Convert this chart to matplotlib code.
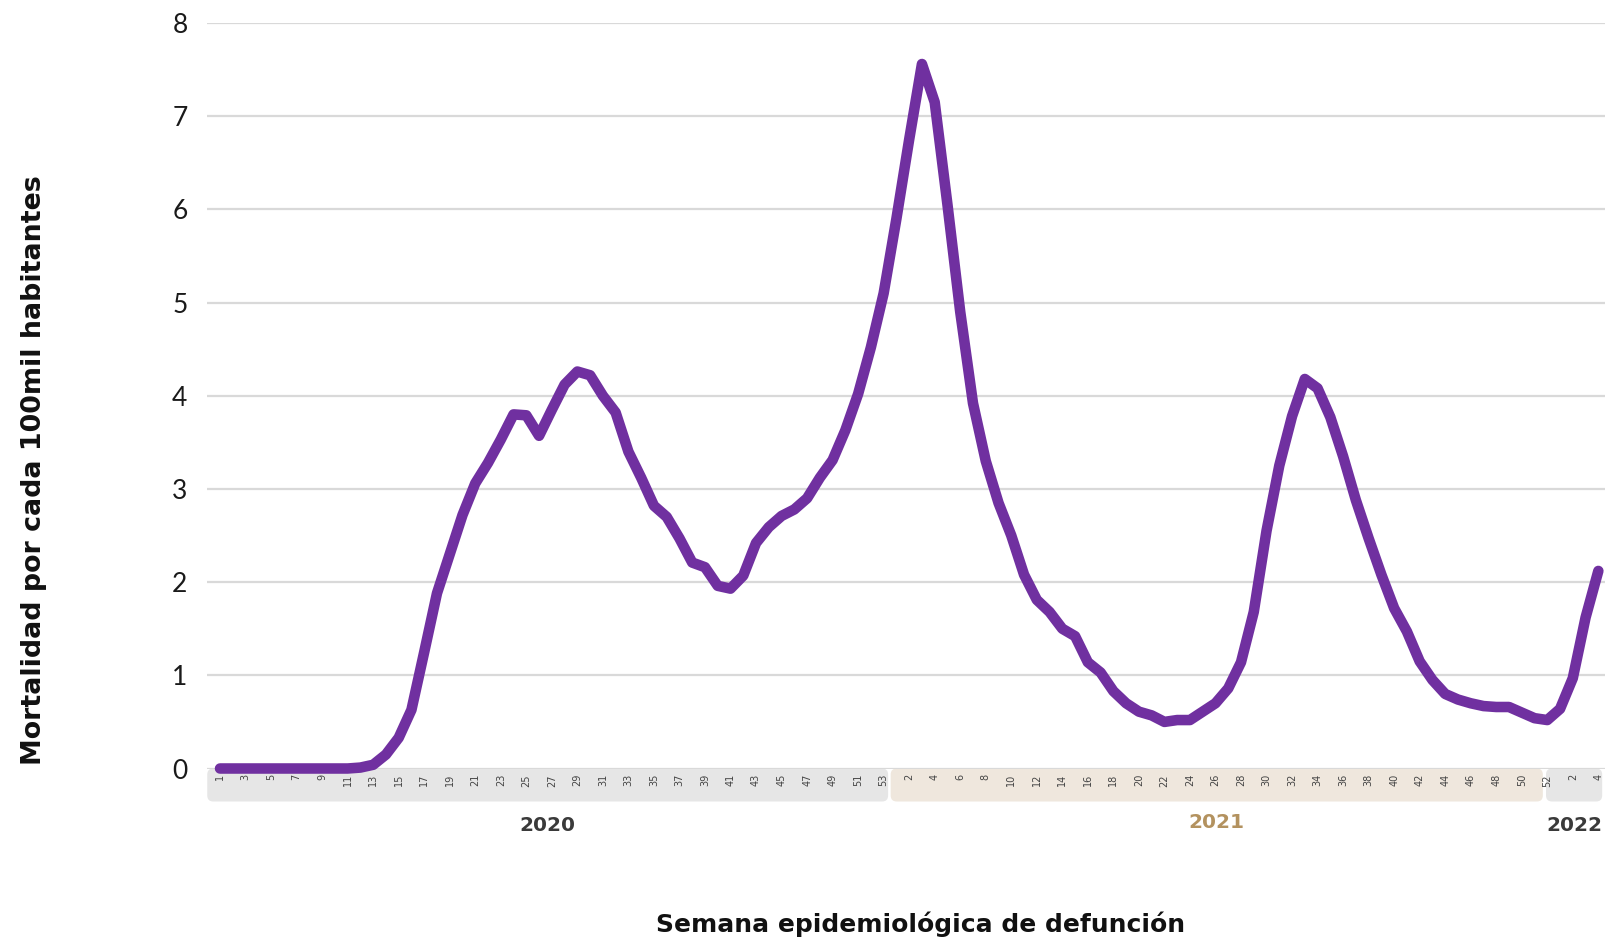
import matplotlib
matplotlib.use("Agg")
import matplotlib.pyplot as plt
from matplotlib.patches import FancyBboxPatch
from matplotlib.transforms import IdentityTransform
import numpy as np

# weekly mortality per 100k inhabitants, by epidemiological week of death
weeks_2020 = list(range(1, 54))
weeks_2021 = list(range(1, 53))
weeks_2022 = list(range(1, 5))

mort_2020 = [0.0, 0.0, 0.0, 0.0, 0.0, 0.0, 0.0, 0.0, 0.0, 0.0,
             0.0, 0.01, 0.04, 0.15, 0.33, 0.63, 1.25, 1.88, 2.30, 2.72,
             3.06, 3.28, 3.53, 3.80, 3.79, 3.57, 3.85, 4.12, 4.26, 4.22,
             4.00, 3.82, 3.40, 3.12, 2.82, 2.70, 2.47, 2.21, 2.16, 1.96,
             1.93, 2.07, 2.42, 2.59, 2.71, 2.78, 2.90, 3.12, 3.31, 3.63,
             4.02, 4.52, 5.10]
mort_2021 = [5.90, 6.75, 7.56, 7.15, 6.05, 4.90, 3.92, 3.30, 2.85, 2.50,
             2.08, 1.81, 1.68, 1.50, 1.42, 1.14, 1.03, 0.83, 0.70, 0.61,
             0.57, 0.50, 0.52, 0.52, 0.61, 0.70, 0.86, 1.14, 1.68, 2.55,
             3.25, 3.78, 4.18, 4.08, 3.77, 3.35, 2.88, 2.47, 2.08, 1.72,
             1.47, 1.15, 0.95, 0.80, 0.74, 0.70, 0.67, 0.66, 0.66, 0.60,
             0.54, 0.52]
mort_2022 = [0.64, 0.97, 1.62, 2.12]

years = ["2020", "2021", "2022"]
year_weeks = [weeks_2020, weeks_2021, weeks_2022]
band_colors = ["#e6e6e6", "#efe7dd", "#e6e6e6"]
year_colors = ["#3a3a3a", "#b3925f", "#3a3a3a"]
# how far each band reaches past its first / last week (in weeks)
band_pads = [(1.0, 0.35), (0.45, -0.35), (1.1, 0.3)]

values = mort_2020 + mort_2021 + mort_2022
week_labels = weeks_2020 + weeks_2021 + weeks_2022
x = np.arange(len(values))

W, H = 1606, 938
fig = plt.figure(figsize=(W / 100, H / 100), dpi=100)
fig.patch.set_facecolor("white")
ax = fig.add_axes([207 / W, 169.5 / H, 1399 / W, 745.5 / H])
ax.set_facecolor("none")

ax.plot(x, values, color="#7030a0", lw=7.6, solid_capstyle="round",
        solid_joinstyle="round", clip_on=False, zorder=3)

ax.set_xlim(-1.02, 108.6)
ax.set_ylim(0, 8)
ax.set_yticks(range(9))
ax.yaxis.grid(True, color="#d9d9d9", lw=1.6)
ax.set_axisbelow(True)
for s in ax.spines.values():
    s.set_visible(False)
ax.tick_params(axis="y", length=0, pad=14, labelsize=19, labelcolor="#1a1a1a")
for t in ax.get_yticklabels():
    t.set_fontfamily("Lato")

ax.set_xticks(x[::2])
ax.set_xticklabels([str(w) for w in week_labels[::2]], rotation=90,
                   fontsize=7, color="#444444")
ax.tick_params(axis="x", length=0, pad=4)

# year bands under the week labels
start = 0
for yr, wk, bc, yc, (pl, pr) in zip(years, year_weeks, band_colors,
                                     year_colors, band_pads):
    end = start + len(wk) - 1
    x0 = ax.transData.transform((start - pl, 0))[0]
    x1 = ax.transData.transform((end + pr, 0))[0]
    y_top = ax.transAxes.transform((0, 0))[1]
    box = FancyBboxPatch((x0 + 6, y_top - 33 + 6), x1 - x0 - 12, 33 - 12,
                         boxstyle="round,pad=6", transform=IdentityTransform(),
                         facecolor=bc, edgecolor="none", zorder=-1)
    fig.patches.append(box)
    ty = -0.0718 if yr == "2021" else -0.0771
    ax.text((start - pl + end + pr) / 2, ty, yr, transform=ax.get_xaxis_transform(),
            ha="center", va="center", fontsize=14.5, fontweight="bold",
            color=yc)
    start = end + 1

fig.text(921 / W, 1 - 924 / H, "Semana epidemiológica de defunción",
         ha="center", va="center", fontsize=18, fontweight="bold", color="#111111")
fig.text(34 / W, 1 - 470 / H, "Mortalidad por cada 100mil habitantes",
         ha="center", va="center", rotation=90, fontsize=19.4,
         fontweight="bold", color="#111111")

fig.savefig("out.png", dpi=100)
